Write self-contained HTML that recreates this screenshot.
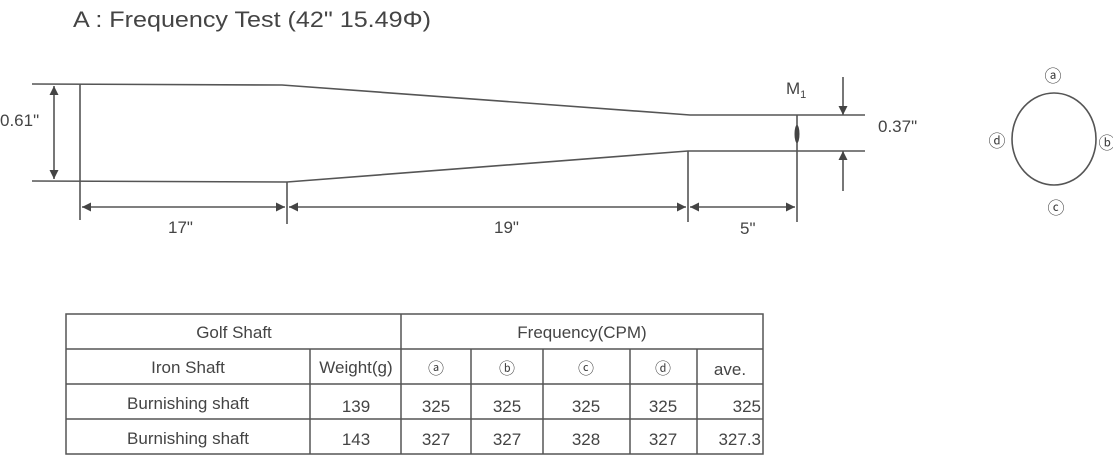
<!DOCTYPE html>
<html><head><meta charset="utf-8"><style>
html,body{margin:0;padding:0;background:#fff;}
svg{display:block;font-family:"Liberation Sans",Arial,sans-serif;}
</style></head><body>
<svg width="1113" height="461" viewBox="0 0 1113 461" xmlns="http://www.w3.org/2000/svg">
<defs>
<marker id="ar" viewBox="0 0 10 10" refX="10" refY="5" markerWidth="12" markerHeight="9" orient="auto-start-reverse" markerUnits="userSpaceOnUse"><path d="M0,0 L10,5 L0,10 z" fill="#444"/></marker>
</defs>
<text x="73" y="27" font-size="22" fill="#444" textLength="358" lengthAdjust="spacingAndGlyphs">A : Frequency Test (42" 15.49Φ)</text>
<g stroke="#555" stroke-width="1.6" fill="none">
<polyline points="32,84 282,85 690,115 865,115"/>
<polyline points="32,181 287,182 688,151 865,151"/>
<line x1="80" y1="84" x2="80" y2="220"/>
<line x1="287" y1="182" x2="287" y2="224"/>
<line x1="688" y1="151" x2="688" y2="222"/>
<line x1="797" y1="115" x2="797" y2="222"/>
<line x1="54" y1="86" x2="54" y2="179" marker-start="url(#ar)" marker-end="url(#ar)"/>
<line x1="82" y1="207" x2="285" y2="207" marker-start="url(#ar)" marker-end="url(#ar)"/>
<line x1="289" y1="207" x2="686" y2="207" marker-start="url(#ar)" marker-end="url(#ar)"/>
<line x1="690" y1="207" x2="795" y2="207" marker-start="url(#ar)" marker-end="url(#ar)"/>
<line x1="843" y1="77" x2="843" y2="115" marker-end="url(#ar)"/>
<line x1="843" y1="191" x2="843" y2="151" marker-end="url(#ar)"/>
<ellipse cx="1054" cy="139" rx="42" ry="46"/>
</g>
<ellipse cx="797" cy="134" rx="2.5" ry="9" fill="#444"/>
<g fill="#444" font-size="17">
<text x="0" y="126">0.61"</text>
<text x="168" y="233">17"</text>
<text x="494" y="233">19"</text>
<text x="740" y="234">5"</text>
<text x="878" y="132">0.37"</text>
<text x="786" y="94">M<tspan font-size="11" dy="4">1</tspan></text>
</g>
<g fill="#444" font-size="17" text-anchor="middle">
<text x="1053" y="82">ⓐ</text>
<text x="1107" y="149">ⓑ</text>
<text x="1056" y="214">ⓒ</text>
<text x="997" y="147">ⓓ</text>
</g>
<g stroke="#555" stroke-width="1.5" fill="none">
<rect x="66" y="314" width="697" height="140"/>
<line x1="66" y1="349" x2="763" y2="349"/>
<line x1="66" y1="384" x2="763" y2="384"/>
<line x1="66" y1="419" x2="763" y2="419"/>
<line x1="401" y1="314" x2="401" y2="454"/>
<line x1="310" y1="349" x2="310" y2="454"/>
<line x1="471" y1="349" x2="471" y2="454"/>
<line x1="543" y1="349" x2="543" y2="454"/>
<line x1="630" y1="349" x2="630" y2="454"/>
<line x1="697" y1="349" x2="697" y2="454"/>
</g>
<g fill="#444" font-size="17" text-anchor="middle">
<text x="234" y="338">Golf Shaft</text>
<text x="582" y="338">Frequency(CPM)</text>
<text x="188" y="373">Iron Shaft</text>
<text x="356" y="373">Weight(g)</text>
<text x="436" y="374" font-size="16">ⓐ</text>
<text x="507" y="374" font-size="16">ⓑ</text>
<text x="586" y="374" font-size="16">ⓒ</text>
<text x="663" y="374" font-size="16">ⓓ</text>
<text x="730" y="375">ave.</text>
<text x="188" y="409">Burnishing shaft</text>
<text x="356" y="412">139</text>
<text x="436" y="412">325</text>
<text x="507" y="412">325</text>
<text x="586" y="412">325</text>
<text x="663" y="412">325</text>
<text x="761" y="412" text-anchor="end">325</text>
<text x="188" y="444">Burnishing shaft</text>
<text x="356" y="445">143</text>
<text x="436" y="445">327</text>
<text x="507" y="445">327</text>
<text x="586" y="445">328</text>
<text x="663" y="445">327</text>
<text x="761" y="445" text-anchor="end">327.3</text>
</g>
</svg>
</body></html>
